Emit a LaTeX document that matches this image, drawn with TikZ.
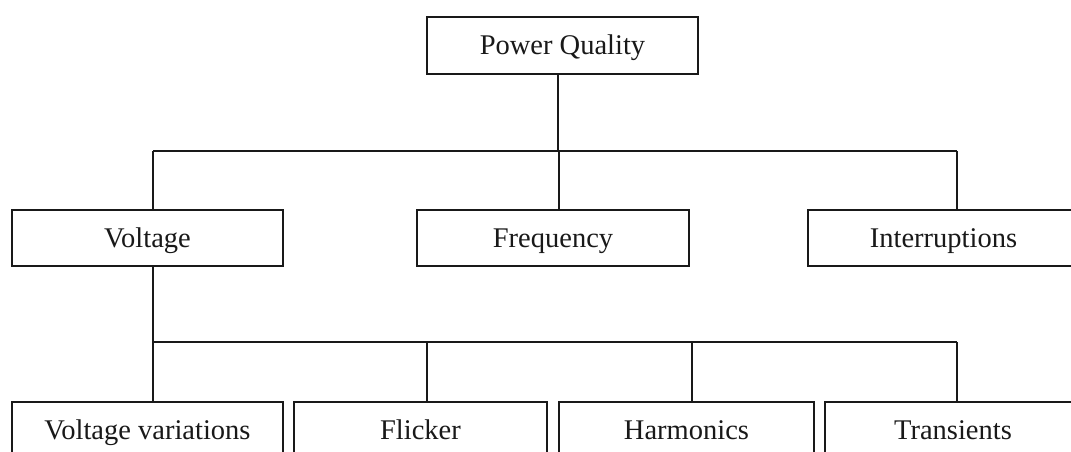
\documentclass[tikz,border=0pt]{standalone}
\usepackage{fontspec}
\setmainfont{Liberation Serif}
\begin{document}
\begin{tikzpicture}[x=1pt,y=-1pt,
  box/.style={draw=black!90, line width=1.9pt, rectangle, inner sep=0pt,
    minimum height=56pt, text height=20pt, text depth=2pt,
    font=\fontsize{28.5}{34}\selectfont, text=black!90},
  link/.style={draw=black!90, line width=1.9pt}]
\useasboundingbox (0,0) rectangle (1071,452);
\clip (0,0) rectangle (1071,452);
\fill[white] (0,0) rectangle (1071,452);
% top
\node[box, minimum width=271pt, minimum height=57pt] (pq) at (562.5,45.5) {Power Quality};
% middle row
\node[box, minimum width=271pt] (volt) at (147.5,238) {Voltage};
\node[box, minimum width=272pt] (freq) at (553,238) {Frequency};
\node[box, minimum width=271pt] (intr) at (943.5,238) {Interruptions};
% bottom row
\node[box, minimum width=271pt] (vv) at (147.5,430) {Voltage variations};
\node[box, minimum width=253pt] (fl) at (420.5,430) {Flicker};
\node[box, minimum width=255pt] (ha) at (686.5,430) {Harmonics};
\node[box, minimum width=256pt] (tr) at (953,430) {Transients};
% bus coordinates
\coordinate (b1l) at (153,151);
\coordinate (b1m) at (558,151);
\coordinate (b1f) at (559,151);
\coordinate (b1r) at (957,151);
\coordinate (b2l) at (153,342);
\coordinate (b2a) at (427,342);
\coordinate (b2b) at (692,342);
\coordinate (b2r) at (957,342);
% connectors level 1
\draw[link] (b1m |- pq.south) -- (b1m);
\draw[link] (b1l) -- (b1r);
\draw[link] (b1l) -- (b1l |- volt.north);
\draw[link] (b1f) -- (b1f |- freq.north);
\draw[link] (b1r) -- (b1r |- intr.north);
% connectors level 2
\draw[link] (b2l |- volt.south) -- (b2l);
\draw[link] (b2l) -- (b2r);
\draw[link] (b2l) -- (b2l |- vv.north);
\draw[link] (b2a) -- (b2a |- fl.north);
\draw[link] (b2b) -- (b2b |- ha.north);
\draw[link] (b2r) -- (b2r |- tr.north);
\end{tikzpicture}
\end{document}
